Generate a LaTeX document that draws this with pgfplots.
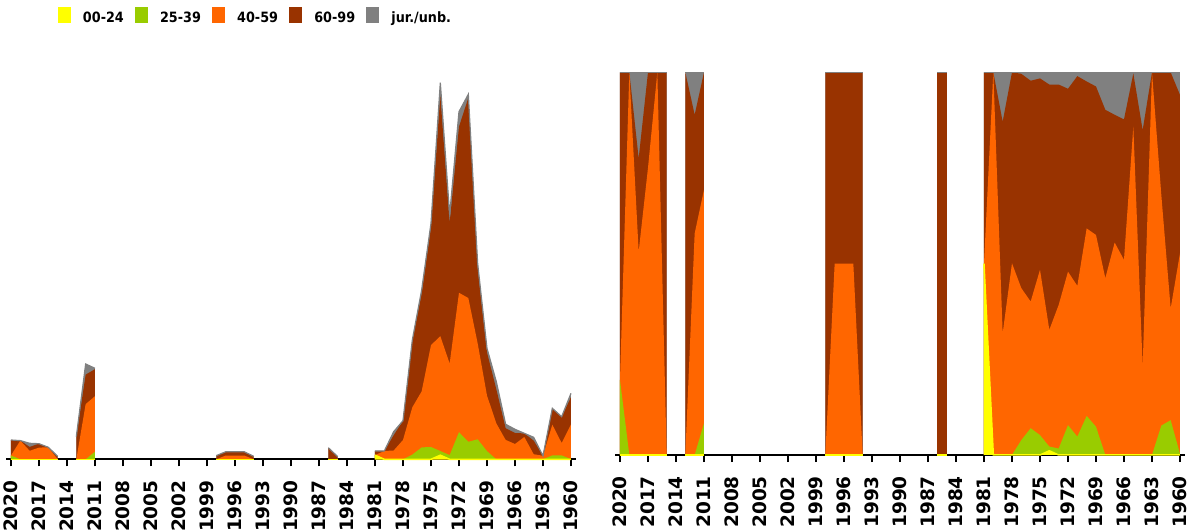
\documentclass[border=0pt]{standalone}
\usepackage{fontspec}
\usepackage{pgfplots}
\usepackage{pgfplotstable}
\pgfplotsset{compat=1.18}
\newfontfamily\lblfont{DejaVu Sans}[FakeStretch=0.9]
\newfontfamily\tickfont{DejaVu Sans}
\definecolor{cyellow}{HTML}{FFFF00}
\definecolor{cgreen}{HTML}{99CC00}
\definecolor{corange}{HTML}{FF6600}
\definecolor{cbrown}{HTML}{993300}
\definecolor{cgray}{HTML}{808080}

\pgfplotstableread{
yr a b c d e
2020 0 3.8 0 15.5 0
2019 0 0 18.7 0 0
2018 0 0 8.5 3.9 3.6
2017 0 0 11.7 3.9 0
2016 0 0 12 0 0
2015 0 0 0 3 0
2013 0 0 0 22.7 0
2012 0 0 55.2 29.5 10.6
2011 0 7.6 55.5 27 0.9
1998 0 0 0 3.7 0
1997 0 0 3.75 3.75 0
1996 0 0 3.75 3.75 0
1995 0 0 3.75 3.75 0
1994 0 0 0 3 0
1986 0 0 0 11.6 0
1985 0 0 0 2.7 0
1981 4.15 0 0 4.15 0
1980 0 0 8.3 0 0
1979 0 0 8.8 15.2 3.6
1978 0 0 19.3 19.3 0
1977 0 4.7 47.3 66.8 0.5
1976 0 11.9 56.0 97.7 3.7
1975 0 12.3 101.9 118.0 3.8
1974 4.1 4.2 114.8 241.4 12.1
1973 0 4.2 91.6 140.7 7.8
1972 0 27.1 139.4 166.1 15.0
1971 0 17.5 143.8 200.1 3.6
1970 0 20.0 96.0 75.3 4.7
1969 0 8.2 55.6 43.1 4.1
1968 0 0 35.9 34.1 7.6
1967 0 0 19.4 11.7 3.9
1966 0 0 15.3 11.0 3.7
1965 0 0 22.3 3.6 0.1
1964 0 0 5.1 13.6 3.3
1963 0 0 3.5 0 0
1962 0 3.9 30.7 16.4 0
1961 0 3.9 12.4 26.3 0
1960 0 0.2 34.6 27.3 3.9
}\absdata

\pgfplotstableread{
yr a b c d e
2020 0 19.6 0 80.4 0
2019 0 0 100 0 0
2018 0 0 53.1 24.4 22.5
2017 0 0 75 25 0
2016 0 0 100 0 0
2015 0 0 0 100 0
2013 0 0 0 100 0
2012 0 0 57.9 31.0 11.1
2011 0 8.3 61.0 30.7 0
1998 0 0 0 100 0
1997 0 0 50 50 0
1996 0 0 50 50 0
1995 0 0 50 50 0
1994 0 0 0 100 0
1986 0 0 0 100 0
1985 0 0 0 100 0
1981 50 0 0 50 0
1980 0 0 100 0 0
1979 0 0 31.8 55.3 12.9
1978 0 0 50.1 49.9 0
1977 0 3.9 39.7 56.0 0.4
1976 0 7.0 33.1 57.7 2.2
1975 0 5.2 43.2 50.0 1.6
1974 1.1 1.1 30.5 64.1 3.2
1973 0 1.7 37.5 57.6 3.2
1972 0 7.8 40.1 47.8 4.3
1971 0 4.8 39.4 54.8 1.0
1970 0 10.2 49.0 38.4 2.4
1969 0 7.4 50.1 38.8 3.7
1968 0 0 46.2 44.0 9.8
1967 0 0 55.5 33.4 11.1
1966 0 0 51.0 36.7 12.3
1965 0 0 85.8 13.9 0.3
1964 0 0 23.1 61.8 15.1
1963 0 0 100 0 0
1962 0 7.7 60.2 32.1 0
1961 0 9.1 29.2 61.7 0
1960 0 0.3 52.4 41.4 5.9
}\pctdata

\pgfplotsset{
  panel/.style={
    scale only axis, width=569.33pt,
    xmin=1959.5, xmax=2020.5, x dir=reverse, ymin=0,
    axis x line=bottom, axis y line=none,
    x axis line style={-, line width=1.6pt, black},
    xtick={1960,1963,...,2020},
    tick align=outside, major tick length=7pt,
    xtick style={line width=1.3pt, black},
    xticklabel shift=14pt,
    xticklabel style={rotate=90, anchor=east, inner sep=0pt,
      font=\tickfont\bfseries\fontsize{18.5}{18.5}\selectfont},
    /pgf/number format/1000 sep={},
    /pgf/number format/assume math mode=true,
    clip=false,
  },
  sqlegend/.style={legend image code/.code={\fill[##1] (0pt,-7.65pt) rectangle (13.3pt,7.65pt);}},
}

\newcommand{\drawsegments}[1]{%
  \pgfplotsinvokeforeach{2015:2020,2011:2013,1994:1998,1985:1986,1960:1981}{
    \addplot[forget plot, draw=none, fill=cgray, restrict x to domain=##1]
      table[x=yr, y expr=\thisrow{a}+\thisrow{b}+\thisrow{c}+\thisrow{d}+\thisrow{e}] {#1} \closedcycle;
    \addplot[forget plot, draw=none, fill=cbrown, restrict x to domain=##1]
      table[x=yr, y expr=\thisrow{a}+\thisrow{b}+\thisrow{c}+\thisrow{d}] {#1} \closedcycle;
    \addplot[forget plot, draw=none, fill=corange, restrict x to domain=##1]
      table[x=yr, y expr=\thisrow{a}+\thisrow{b}+\thisrow{c}] {#1} \closedcycle;
    \addplot[forget plot, draw=none, fill=cgreen, restrict x to domain=##1]
      table[x=yr, y expr=\thisrow{a}+\thisrow{b}] {#1} \closedcycle;
    \addplot[forget plot, draw=none, fill=cyellow, restrict x to domain=##1]
      table[x=yr, y=a] {#1} \closedcycle;
    \addplot[forget plot, draw=cgray, line width=1.2pt, restrict x to domain=##1]
      table[x=yr, y expr=\thisrow{a}+\thisrow{b}+\thisrow{c}+\thisrow{d}+\thisrow{e}] {#1};
    \addplot[forget plot, draw=cyellow, line width=1.5pt, restrict x to domain=##1]
      table[x=yr, y=a] {#1};
  }%
}

\begin{document}
\begin{tikzpicture}
\useasboundingbox (0,0) rectangle (1204pt,532pt);
\begin{axis}[panel, at={(6.33pt,72.7pt)}, anchor=south west,
  height=400pt, ymax=400,
  legend columns=5, sqlegend,
  legend style={at={(0.0902,1.13)}, anchor=north west, draw=none, fill=none,
    inner sep=0pt, outer sep=0pt, column sep=0pt,
    font=\lblfont\bfseries\fontsize{14.2}{14.2}\selectfont,
    nodes={inner sep=0pt, text width=51.8pt, align=left, text height=15.4pt, text depth=0pt},
    /tikz/every odd column/.append style={column sep=12pt}},
]
\addlegendimage{fill=cyellow, draw=none}\addlegendentry{00-24}
\addlegendimage{fill=cgreen, draw=none}\addlegendentry{25-39}
\addlegendimage{fill=corange, draw=none}\addlegendentry{40-59}
\addlegendimage{fill=cbrown, draw=none}\addlegendentry{60-99}
\addlegendimage{fill=cgray, draw=none}\addlegendentry{jur./unb.}
\drawsegments{\absdata}
\end{axis}
\begin{axis}[panel, at={(615.33pt,77pt)}, anchor=south west,
  height=382.7pt, ymax=100]
\drawsegments{\pctdata}
\end{axis}
\end{tikzpicture}
\end{document}
